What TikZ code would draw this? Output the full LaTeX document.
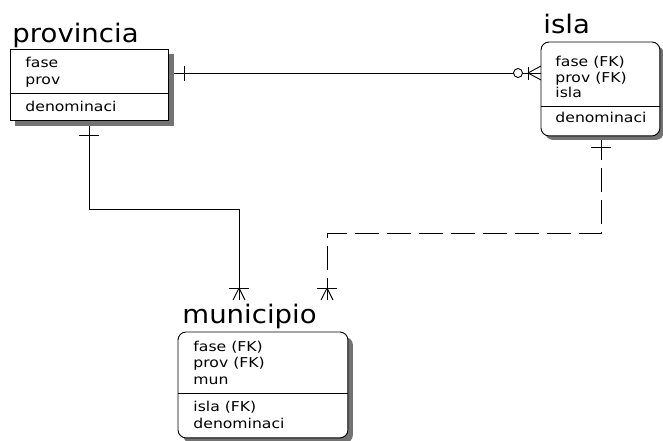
\documentclass[tikz,border=0pt]{standalone}
\usepackage{fontspec}
\setmainfont{DejaVu Sans}
\newfontfamily\titlefont[FakeStretch=1.08]{DejaVu Sans}
\newfontfamily\fieldfont[FakeStretch=1.15]{DejaVu Sans}
\usetikzlibrary{calc}
\begin{document}
\begin{tikzpicture}[x=1pt,y=-1pt,line width=0.9pt,
  ttl/.style={anchor=base west,inner sep=0pt,font=\titlefont\fontsize{25.5}{25.5}\selectfont},
  fld/.style={anchor=base west,inner sep=0pt,font=\fieldfont\fontsize{13.6}{13.6}\selectfont},
  conn/.style={line width=0.9pt},
  idconn/.style={conn,dash pattern=on 24pt off 8pt},
  shade/.style={fill=black!55},
  frame/.style={draw=black,fill=white}]
\useasboundingbox (0,0) rectangle (663,440);

% boxes (positions only, drawn later)
\path (10,49) node[inner sep=0pt,anchor=north west,minimum width=158pt,minimum height=71pt] (prov) {};
\path (541,42) node[inner sep=0pt,anchor=north west,minimum width=118pt,minimum height=93pt] (isla) {};
\path (178,332) node[inner sep=0pt,anchor=north west,minimum width=169pt,minimum height=105pt] (mun) {};

% connectors
\coordinate (a1) at ($(prov.north east)+(0,24)$);
\coordinate (b1) at ($(isla.north west)+(0,31)$);
\draw[conn] (a1) -- (b1);
\draw[conn] ($(a1)+(16,-7.5)$) -- ++(0,15);
\draw[conn] ($(b1)+(-13,-6.5)$) -- ++(0,13);
\draw[conn] ($(b1)+(-13,0)$) -- ($(b1)+(0,-7)$);
\draw[conn] ($(b1)+(-13,0)$) -- ($(b1)+(0,7)$);
\draw[conn,fill=white] ($(b1)+(-23,0)$) circle (4.5pt);

\coordinate (a2) at ($(prov.south west)+(79,0)$);
\coordinate (b2) at ($(mun.north west)+(61,-32)$);
\draw[conn] (a2) -- ++(0,89) -| (b2);
\draw[conn] ($(a2)+(-10,15)$) -- ++(20,0);
\draw[conn] ($(b2)+(-10,-12)$) -- ++(20,0);
\draw[conn] ($(b2)+(0,-12)$) -- ($(b2)+(-6,0)$);
\draw[conn] ($(b2)+(0,-12)$) -- ($(b2)+(6,0)$);

\coordinate (a3) at ($(isla.south west)+(60,0)$);
\coordinate (b3) at ($(mun.north west)+(149,-32)$);
\draw[idconn] (a3) -- ++(0,98) -| (b3);
\draw[conn] ($(a3)+(-10,12)$) -- ++(20,0);
\draw[conn] ($(b3)+(-10,-12)$) -- ++(20,0);
\draw[conn] ($(b3)+(0,-12)$) -- ($(b3)+(-6,0)$);
\draw[conn] ($(b3)+(0,-12)$) -- ($(b3)+(6,0)$);

% shadows
\fill[shade] ($(prov.north west)+(5,5)$) rectangle ($(prov.south east)+(5,5)$);
\fill[shade,rounded corners=8pt] ($(isla.north west)+(4,4)$) rectangle ($(isla.south east)+(4,4)$);
\fill[shade,rounded corners=8pt] ($(mun.north west)+(5,5)$) rectangle ($(mun.south east)+(5,5)$);

% entity boxes
\draw[frame] (prov.north west) rectangle (prov.south east);
\draw[frame,rounded corners=8pt] (isla.north west) rectangle (isla.south east);
\draw[frame,rounded corners=8pt] (mun.north west) rectangle (mun.south east);
\draw (prov.west |- 0,93) -- (prov.east |- 0,93);
\draw (isla.west |- 0,106) -- (isla.east |- 0,106);
\draw (mun.west |- 0,393) -- (mun.east |- 0,393);

% titles
\node[ttl] (tprov) at (12,42) {provincia};
\node[ttl] (tisla) at (543,33) {isla};
\node[ttl] (tmun) at (182,323) {municipio};

% fields
\node[fld] (p1) at (25,67) {fase};
\node[fld] (p2) at (25,84) {prov};
\node[fld] (p3) at (25,111) {denominaci};
\node[fld] (i1) at (555,66) {fase (FK)};
\node[fld] (i2) at (555,82) {prov (FK)};
\node[fld] (i3) at (555,97) {isla};
\node[fld] (i4) at (555,122) {denominaci};
\node[fld] (m1) at (193,351) {fase (FK)};
\node[fld] (m2) at (193,367) {prov (FK)};
\node[fld] (m3) at (193,384) {mun};
\node[fld] (m4) at (193,411) {isla (FK)};
\node[fld] (m5) at (193,428) {denominaci};
\end{tikzpicture}
\end{document}
